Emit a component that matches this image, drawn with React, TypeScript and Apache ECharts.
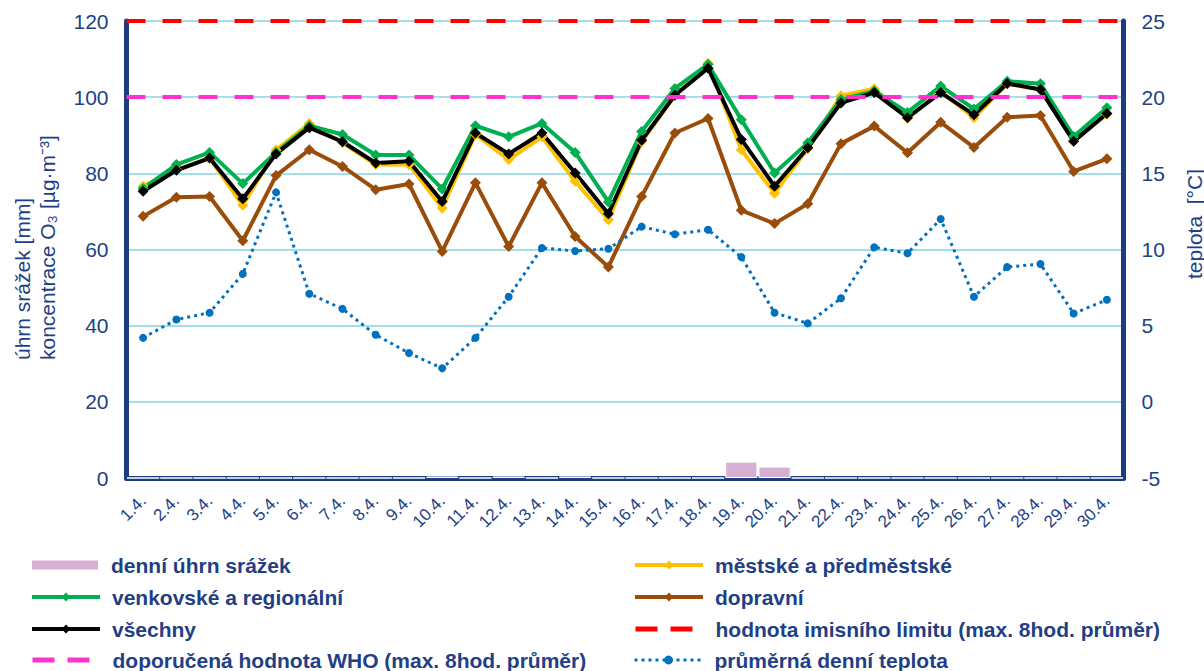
import React, { useEffect, useRef } from "react";
import * as echarts from "echarts";

const DAYS = [
  "1.4.", "2.4.", "3.4.", "4.4.", "5.4.", "6.4.", "7.4.", "8.4.", "9.4.", "10.4.",
  "11.4.", "12.4.", "13.4.", "14.4.", "15.4.", "16.4.", "17.4.", "18.4.", "19.4.", "20.4.",
  "21.4.", "22.4.", "23.4.", "24.4.", "25.4.", "26.4.", "27.4.", "28.4.", "29.4.", "30.4.",
];

const PRECIP = [0, 0, 0, 0, 0, 0, 0, 0, 0, 0.4, 0, 0.4, 0, 0.4, 0, 0, 0, 0, 4.3, 3.0, 0, 0, 0, 0, 0, 0, 0, 0, 0, 0];

const URBAN = [76.6, 81.0, 84.0, 71.6, 86.1, 93.1, 88.0, 82.3, 82.3, 70.9, 90.2, 83.6, 89.6, 77.9, 67.8, 88.3, 100.5, 108.9, 86.2, 74.8, 86.5, 100.4, 102.2, 94.5, 101.5, 94.6, 103.5, 102.0, 88.5, 95.5];

const RURAL = [76.0, 82.3, 85.5, 77.3, 85.5, 92.5, 90.2, 84.8, 84.8, 75.9, 92.5, 89.6, 93.1, 85.5, 72.5, 91.0, 102.3, 108.6, 94.1, 80.1, 88.0, 99.4, 101.6, 96.0, 102.9, 96.9, 104.2, 103.5, 89.7, 97.2];

const TRAFFIC = [68.7, 73.7, 73.9, 62.3, 79.4, 86.2, 81.8, 75.7, 77.2, 59.5, 77.5, 60.8, 77.5, 63.4, 55.4, 73.9, 90.6, 94.4, 70.3, 66.8, 72.0, 87.8, 92.4, 85.4, 93.4, 86.8, 94.7, 95.2, 80.5, 83.8];

const ALL = [75.3, 80.8, 84.0, 73.3, 85.1, 92.0, 88.3, 82.7, 83.2, 72.6, 90.6, 85.1, 90.6, 80.1, 69.4, 88.7, 100.5, 107.6, 88.9, 76.6, 86.7, 98.5, 101.2, 94.6, 101.2, 95.4, 103.6, 102.0, 88.4, 95.7];

const TEMP = [4.2, 5.4, 5.85, 8.4, 13.75, 7.1, 6.1, 4.4, 3.2, 2.2, 4.2, 6.9, 10.1, 9.9, 10.05, 11.5, 11.0, 11.3, 9.5, 5.85, 5.15, 6.8, 10.15, 9.75, 12.0, 6.9, 8.85, 9.05, 5.8, 6.7];

const LIMIT_VALUE = 120;
const WHO_VALUE = 100;

const NAMES = {
  precip: "denní úhrn srážek",
  urban: "městské a předměstské",
  rural: "venkovské a regionální",
  traffic: "dopravní",
  all: "všechny",
  limit: "hodnota imisního limitu (max. 8hod. průměr)",
  who: "doporučená hodnota WHO (max. 8hod. průměr)",
  temp: "průměrná denní teplota",
};

// legend layout: [name, column, row]
const LEGEND_LAYOUT: [string, number, number][] = [
  [NAMES.precip, 0, 0],
  [NAMES.urban, 1, 0],
  [NAMES.rural, 0, 1],
  [NAMES.traffic, 1, 1],
  [NAMES.all, 0, 2],
  [NAMES.limit, 1, 2],
  [NAMES.who, 0, 3],
  [NAMES.temp, 1, 3],
];

const NAVY = "#1d3c82";
const TEXT = "#223f85";
const FONT = "'Liberation Sans', Arial, sans-serif";

export default function App() {
  const ref = useRef<HTMLDivElement>(null);

  useEffect(() => {
    if (!ref.current) return;
    const chart = echarts.init(ref.current, undefined, { renderer: "svg" });

    const lineSeries = (name: string, data: number[], color: string) => ({
      name,
      type: "line",
      data,
      yAxisIndex: 0,
      symbol: "diamond",
      symbolSize: 11,
      lineStyle: { color, width: 4 },
      itemStyle: { color },
    });

    const legendText = {
      fontSize: 21,
      fontWeight: "bold",
      color: TEXT,
      fontFamily: FONT,
      lineHeight: 22,
      padding: [0, 0, 0, 7],
    };

    const colLeft = [30, 633];
    const rowCenter = [565, 597, 629, 660];

    const legends = LEGEND_LAYOUT.map(([name, col, row]) => {
      let item: any = { name, lineStyle: { width: 4 } };
      if (name === NAMES.precip) item = { name, icon: "rect" };
      if (name === NAMES.limit || name === NAMES.who)
        item = { name, itemStyle: { opacity: 0 }, lineStyle: { width: 5, type: [22, 13] } };
      if (name === NAMES.temp) item = { name, lineStyle: { width: 3, type: [3, 4] } };
      return {
        orient: "horizontal",
        left: colLeft[col],
        top: rowCenter[row] - 11,
        padding: 0,
        itemWidth: 68,
        itemHeight: 11,
        textStyle: legendText,
        data: [item],
      };
    });

    chart.setOption({
      animation: false,
      backgroundColor: "#ffffff",
      textStyle: { fontFamily: FONT },
      grid: { left: 126.5, right: 80.5, top: 21, bottom: 193, containLabel: false },
      legend: legends,
      xAxis: {
        type: "category",
        data: DAYS,
        boundaryGap: true,
        axisLine: { show: true, lineStyle: { color: NAVY, width: 5 } },
        axisTick: { show: false },
        axisLabel: {
          interval: 0,
          rotate: 45,
          fontSize: 17,
          color: TEXT,
          fontFamily: FONT,
          margin: 20,
        },
      },
      yAxis: [
        {
          type: "value",
          min: 0,
          max: 120,
          interval: 20,
          axisLine: { show: true, lineStyle: { color: NAVY, width: 5 } },
          axisTick: { show: false },
          axisLabel: { fontSize: 21, color: TEXT, fontFamily: FONT, margin: 18 },
          splitLine: { show: true, lineStyle: { color: "#86d3e0", width: 1.5 } },
        },
        {
          type: "value",
          min: -5,
          max: 25,
          interval: 5,
          position: "right",
          axisLine: { show: true, lineStyle: { color: NAVY, width: 5 } },
          axisTick: { show: false },
          axisLabel: { fontSize: 21, color: TEXT, fontFamily: FONT, margin: 18 },
          splitLine: { show: false },
        },
      ],
      graphic: [
        {
          type: "text",
          x: 22,
          y: 360,
          rotation: Math.PI / 2,
          style: {
            text: "úhrn srážek [mm]",
            fontSize: 21,
            fontFamily: FONT,
            fill: TEXT,
            align: "left",
            verticalAlign: "middle",
          },
        },
        {
          type: "text",
          x: 47,
          y: 360,
          rotation: Math.PI / 2,
          style: {
            text: "koncentrace O₃ [µg·m⁻³]",
            fontSize: 21,
            fontFamily: FONT,
            fill: TEXT,
            align: "left",
            verticalAlign: "middle",
          },
        },
        {
          type: "text",
          x: 1194,
          y: 224,
          rotation: Math.PI / 2,
          style: {
            text: "teplota  [°C]",
            fontSize: 21,
            fontFamily: FONT,
            fill: TEXT,
            align: "center",
            verticalAlign: "middle",
          },
        },
      ],
      series: [
        {
          name: NAMES.precip,
          type: "bar",
          data: PRECIP,
          yAxisIndex: 0,
          barCategoryGap: "3%",
          itemStyle: { color: "#d6b0d3", borderColor: "#ffffff", borderWidth: 1 },
        },
        lineSeries(NAMES.urban, URBAN, "#ffc000"),
        lineSeries(NAMES.rural, RURAL, "#00b050"),
        lineSeries(NAMES.traffic, TRAFFIC, "#9a4d0a"),
        lineSeries(NAMES.all, ALL, "#000000"),
        {
          name: NAMES.limit,
          type: "line",
          data: [],
          yAxisIndex: 0,
          symbol: "none",
          lineStyle: { color: "#ff0000", width: 4, type: [19, 17] },
          itemStyle: { color: "#ff0000" },
          markLine: {
            silent: true,
            symbol: ["none", "none"],
            label: { show: false },
            lineStyle: { color: "#ff0000", width: 4, type: [19, 17] },
            data: [{ yAxis: LIMIT_VALUE }],
          },
        },
        {
          name: NAMES.who,
          type: "line",
          data: [],
          yAxisIndex: 0,
          symbol: "none",
          lineStyle: { color: "#ff33cc", width: 4, type: [19, 17] },
          itemStyle: { color: "#ff33cc" },
          markLine: {
            silent: true,
            symbol: ["none", "none"],
            label: { show: false },
            lineStyle: { color: "#ff33cc", width: 4, type: [19, 17] },
            data: [{ yAxis: WHO_VALUE }],
          },
        },
        {
          name: NAMES.temp,
          type: "line",
          data: TEMP,
          yAxisIndex: 1,
          symbol: "circle",
          symbolSize: 8,
          lineStyle: { color: "#0070c0", width: 3, type: [3, 4] },
          itemStyle: { color: "#0070c0" },
        },
      ],
    });

    return () => chart.dispose();
  }, []);

  return (
    <div
      ref={ref}
      style={{ position: "absolute", left: 0, top: 0, width: 1204, height: 671 }}
    />
  );
}
